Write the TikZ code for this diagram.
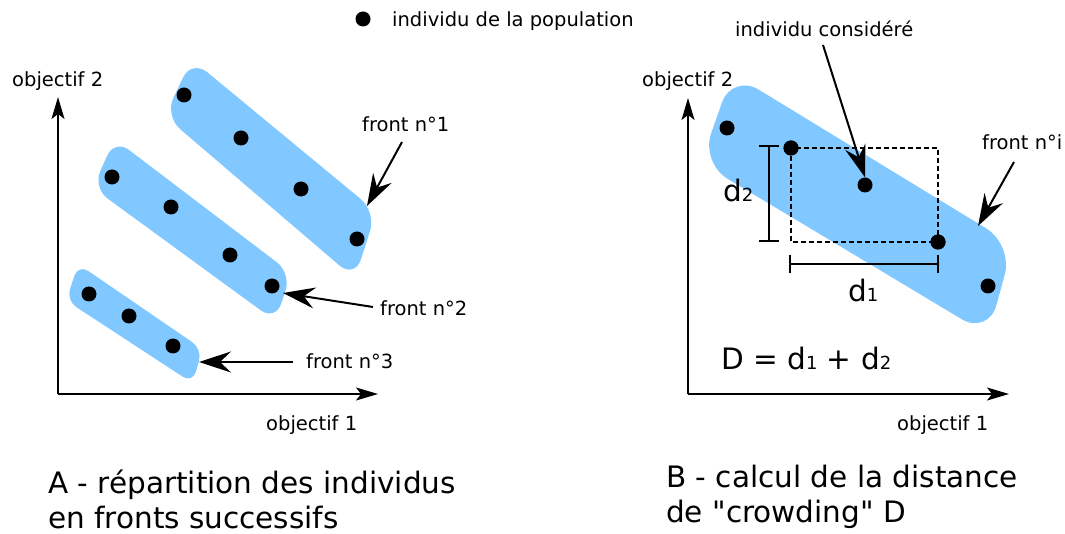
\documentclass[tikz,border=0pt]{standalone}
\usepackage{fontspec}
\setmainfont{DejaVu Sans}[Ligatures=TeXOff]
\usetikzlibrary{arrows.meta}
\definecolor{blobblue}{RGB}{128,200,255}
\newcommand{\smalltxt}{\fontsize{19.5}{23}\selectfont}
\newcommand{\bigtxt}{\fontsize{29.5}{35}\selectfont}
\newcommand{\subd}[1]{{\fontsize{18}{18}\selectfont #1}}
\begin{document}
\begin{tikzpicture}[x=1pt,y=-1pt,
  dot/.style={circle,fill=black,inner sep=0pt,minimum size=15pt},
  lbl/.style={inner sep=0pt,anchor=base west,font=\smalltxt},
  biglbl/.style={inner sep=0pt,anchor=base west,font=\bigtxt},
  blob/.style={fill=blobblue},
  axis/.style={line width=1.5pt,-{Stealth[length=22pt,width=13pt,inset=5pt]}},
  ptr/.style={line width=2pt,-{Stealth[length=32pt,width=21pt,inset=11pt]}},
  bar/.style={line width=2pt},
  box/.style={line width=2.2pt,dash pattern=on 5pt off 3pt}]
\useasboundingbox (0,0) rectangle (1065,534);

% legend
\node[dot] (leg) at (363,19) {};
\node[lbl] (legt) at (392,27) {individu de la population};

% ---------------- panel A ----------------
\fill[blob,rounded corners=20pt] (191.7,59.4) -- (376.2,211.8) -- (354.8,278.6) -- (164.8,116) -- cycle;
\fill[blob,rounded corners=18pt] (114.6,139) -- (291.3,273.3) -- (275.4,321) -- (92.9,187.8) -- cycle;
\fill[blob,rounded corners=12pt] (78.3,264.2) -- (202.3,349) -- (192.7,383.2) -- (66.2,300.5) -- cycle;

\coordinate (oA) at (58,394);
\coordinate (yA) at (58,97);
\coordinate (xA) at (378,394);
\draw[axis] (oA) -- (yA);
\draw[axis] (oA) -- (xA);
\node[lbl] (ya) at (12,87) {objectif 2};
\node[lbl] (xa) at (266,430) {objectif 1};

\node[dot] (a1) at (184,95) {};
\node[dot] (a2) at (241,138) {};
\node[dot] (a3) at (301,189) {};
\node[dot] (a4) at (357,239) {};
\node[dot] (b1) at (112,177) {};
\node[dot] (b2) at (171,207) {};
\node[dot] (b3) at (230,255) {};
\node[dot] (b4) at (272,286) {};
\node[dot] (c1) at (89,294) {};
\node[dot] (c2) at (129,316) {};
\node[dot] (c3) at (173,346) {};

\node[lbl] (fr1) at (362,132) {front n°1};
\node[lbl] (fr2) at (380,316) {front n°2};
\node[lbl] (fr3) at (306,368) {front n°3};
\coordinate (f1s) at (402,142);
\coordinate (f1e) at (367,206);
\coordinate (f2s) at (373,307);
\coordinate (f2e) at (283,293);
\coordinate (f3s) at (293,362);
\coordinate (f3e) at (199,362);
\draw[ptr] (f1s) -- (f1e);
\draw[ptr] (f2s) -- (f2e);
\draw[ptr] (f3s) -- (f3e);

\node[biglbl] (capA1) at (48,493) {A - répartition des individus};
\node[biglbl] (capA2) at (48,528) {en fronts successifs};

% ---------------- panel B ----------------
\fill[blob,rounded corners=31pt] (732.2,73.5) -- (1012.9,244.7) -- (988.2,335.1) -- (700.8,162.7) -- cycle;

\coordinate (oB) at (688,394);
\coordinate (yB) at (688,98);
\coordinate (xB) at (1009,394);
\draw[axis] (oB) -- (yB);
\draw[axis] (oB) -- (xB);
\node[lbl] (yb) at (642,87) {objectif 2};
\node[lbl] (xb) at (897,430) {objectif 1};

\node[dot] (p1) at (727,128) {};
\node[dot] (p2) at (791,148) {};
\node[dot] (p3) at (865,185) {};
\node[dot] (p4) at (938,242) {};
\node[dot] (p5) at (988,286) {};

\draw[box] (p2.center) rectangle (p4.center);

\coordinate (d2t) at (769,146);
\coordinate (d2b) at (769,241);
\draw[bar] (d2t) -- (d2b);
\draw[bar] ([xshift=-10pt]d2t) -- ([xshift=10pt]d2t);
\draw[bar] ([xshift=-10pt]d2b) -- ([xshift=10pt]d2b);
\coordinate (d1l) at (790,264);
\coordinate (d1r) at (938,264);
\draw[bar] (d1l) -- (d1r);
\draw[bar] ([yshift=-9pt]d1l) -- ([yshift=9pt]d1l);
\draw[bar] ([yshift=-9pt]d1r) -- ([yshift=9pt]d1r);

\node[dot] at (p2) {};
\node[dot] at (p4) {};

\node[biglbl] (d2lab) at (723,202) {d\subd{2}};
\node[biglbl] (d1lab) at (848,302) {d\subd{1}};
\node[biglbl] (Dlab) at (721,370) {D = d\subd{1} + d\subd{2}};

\node[lbl] (ind) at (735,37) {individu considéré};
\coordinate (is) at (823,45);
\draw[ptr] (is) -- (p3.north);
\node[lbl] (fri) at (982,150) {front n°i};
\coordinate (fis) at (1014,162);
\coordinate (fie) at (978,226);
\draw[ptr] (fis) -- (fie);

\node[biglbl] (capB1) at (666,487) {B - calcul de la distance};
\node[biglbl] (capB2) at (666,522) {de "crowding" D};
\end{tikzpicture}
\end{document}
